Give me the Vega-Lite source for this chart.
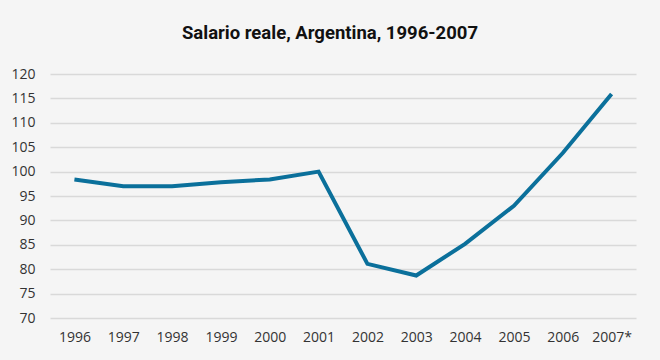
{
  "$schema": "https://vega.github.io/schema/vega-lite/v6.json",
  "autosize": {"type": "none"},
  "width": 586,
  "height": 244,
  "padding": {"left": 50, "top": 74, "right": 24, "bottom": 42},
  "background": "#f5f5f5",
  "title": {
    "text": "Salario reale, Argentina, 1996-2007",
    "font": "Roboto",
    "fontWeight": "bold",
    "fontSize": 18.5,
    "color": "#111111",
    "anchor": "middle",
    "dx": -13,
    "offset": 25
  },
  "config": {
    "view": {"stroke": null},
    "axis": {
      "labelFont": "Open Sans",
      "labelFontSize": 14,
      "labelColor": "#333333",
      "ticks": false,
      "domain": false,
      "title": null
    }
  },
  "data": {
    "values": [
      {"anno": "1996", "salario": 98.4},
      {"anno": "1997", "salario": 97.0},
      {"anno": "1998", "salario": 97.0},
      {"anno": "1999", "salario": 97.8},
      {"anno": "2000", "salario": 98.4},
      {"anno": "2001", "salario": 100.0},
      {"anno": "2002", "salario": 81.1},
      {"anno": "2003", "salario": 78.7},
      {"anno": "2004", "salario": 85.2},
      {"anno": "2005", "salario": 93.0},
      {"anno": "2006", "salario": 103.8},
      {"anno": "2007*", "salario": 115.9}
    ]
  },
  "mark": {"type": "line", "color": "#0b709b", "strokeWidth": 4, "strokeJoin": "miter"},
  "encoding": {
    "x": {
      "field": "anno",
      "type": "ordinal",
      "scale": {"type": "point", "padding": 0.5},
      "axis": {"labelAngle": 0, "labelPadding": 12, "grid": false}
    },
    "y": {
      "field": "salario",
      "type": "quantitative",
      "scale": {"domain": [70, 120], "nice": false, "zero": false},
      "axis": {
        "values": [70, 75, 80, 85, 90, 95, 100, 105, 110, 115, 120],
        "labelPadding": 15,
        "grid": true,
        "gridColor": "#d9d9d9",
        "gridWidth": 1.5
      }
    }
  }
}
